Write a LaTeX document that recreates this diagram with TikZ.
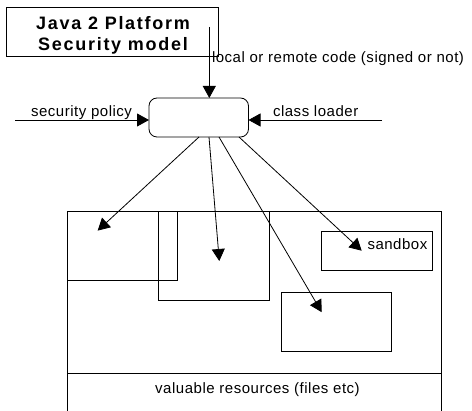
\documentclass[tikz,border=0pt]{standalone}
\usepackage{fontspec}
\setmainfont{Liberation Sans}
\newfontfamily\labfont[LetterSpace=3.5]{Liberation Sans}
\newfontfamily\ttlfont[LetterSpace=9.5]{Liberation Sans}
\usetikzlibrary{arrows.meta}
\tikzset{
  box/.style={draw=black, line width=0.8pt, inner sep=0pt, outer sep=0pt},
  corebox/.style={box, rounded corners=8pt},
  lab/.style={inner sep=0pt, outer sep=0pt, font=\labfont\fontsize{15}{18}\selectfont},
  ttl/.style={inner sep=0pt, align=center, font=\ttlfont\bfseries\fontsize{18}{21}\selectfont},
  arr/.style={draw=black, line width=0.8pt, -{Triangle[length=12pt,width=13pt]}},
}
\begin{document}
\begin{tikzpicture}[x=1pt,y=-1pt]
\useasboundingbox (0,0) rectangle (472,411);
% title
\node[box, minimum width=212pt, minimum height=49pt] (title) at (112,31.5) {};
\node[ttl] (titletext) at (113,35) {Java 2 Platform\\Security model};
% core
\node[corebox, minimum width=99.5pt, minimum height=39pt] (core) at (198.75,117.5) {};
% incoming
\coordinate (codein) at (209.3,27);
\coordinate (polin) at (15,120);
\coordinate (clin) at (382,120);
\draw[arr] (codein) -- (codein |- core.north);
\draw[arr] (polin) -- (polin -| core.west);
\draw[arr] (clin) -- (clin -| core.east);
\node[lab, anchor=base west] (codelab) at (212,62.3) {local or remote code (signed or not)};
\node[lab, anchor=base west] (pollab) at (31,116.5) {security policy};
\node[lab, anchor=base west] (cllab) at (273,116.5) {class loader};
% world
\node[box, minimum width=374.5pt, minimum height=230pt, anchor=north west] (world) at (67.3,211) {};
\coordinate (sepl) at (67.3,373.5);
\draw[line width=0.8pt] (sepl) -- (sepl -| world.east);
\node[lab, anchor=base] (reslab) at (257.5,393.5) {valuable resources (files etc)};
% inner boxes
\node[box, minimum width=110.4pt, minimum height=69.3pt, anchor=north west] (boxa) at (67.3,211) {};
\node[box, minimum width=110.6pt, minimum height=89.7pt, anchor=north west] (boxb) at (158.7,211) {};
\node[box, minimum width=111pt, minimum height=39.5pt, anchor=north west] (sandbox) at (321.3,231.2) {};
\node[lab, anchor=base west] (sandlab) at (367.5,249.3) {sandbox};
\node[box, minimum width=110pt, minimum height=59.5pt, anchor=north west] (boxd) at (281,292.3) {};
% outgoing arrows
\coordinate (tipa) at (97.7,230.6);
\coordinate (tipb) at (219.3,261);
\coordinate (tipd) at (321.7,312.2);
\coordinate (tips) at (361.7,250.7);
\draw[arr] ([xshift=50pt]core.south west) -- (tipa);
\draw[arr] ([xshift=60pt]core.south west) -- (tipb);
\draw[arr] ([xshift=70pt]core.south west) -- (tipd);
\draw[arr] ([xshift=90pt]core.south west) -- (tips);
\end{tikzpicture}
\end{document}
